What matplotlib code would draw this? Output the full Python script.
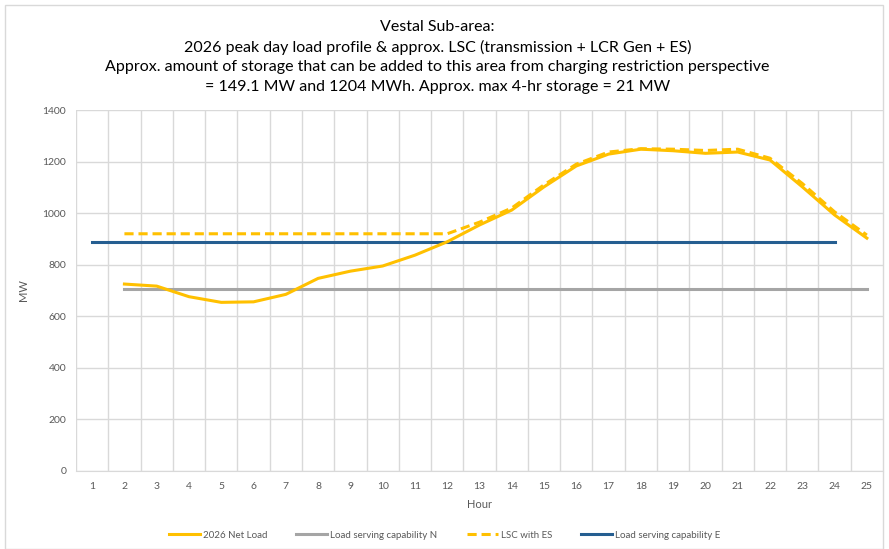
import matplotlib
matplotlib.use("Agg")
import matplotlib.pyplot as plt
from matplotlib.patches import Rectangle

plt.rcParams['font.family'] = ['Lato', 'DejaVu Sans']

hours = list(range(1, 26))
tick_labels = [str(h) for h in hours]

net_hours = list(range(2, 26))
net_load = [725, 717, 676, 654, 656, 685, 747, 775, 795, 837, 889, 954,
            1012, 1102, 1183, 1229, 1248, 1242, 1232, 1237, 1206, 1102, 993, 903]

lsc_es = [920, 920, 920, 920, 920, 920, 920, 920, 920, 920, 920, 965,
          1020, 1110, 1190, 1237, 1250, 1248, 1243, 1248, 1213, 1115, 1005, 915]

lsc_n_hours = list(range(2, 26))
lsc_n = [707] * len(lsc_n_hours)

lsc_e_hours = list(range(1, 25))
lsc_e = [890] * len(lsc_e_hours)

title_lines = ["Vestal Sub-area:",
               "2026 peak day load profile & approx. LSC (transmission + LCR Gen + ES)",
               "Approx. amount of storage that can be added to this area from charging restriction perspective",
               "= 149.1 MW and 1204 MWh. Approx. max 4-hr storage = 21 MW"]

ORANGE = '#FFC000'
GRAY = '#A5A5A5'
BLUE = '#255E91'
GRID = '#D9D9D9'
TXT = '#595959'

fig = plt.figure(figsize=(8.89, 5.49), dpi=100)
fig.patches.append(Rectangle((5/889, 0.0), 878/889, 1 - 5/549, transform=fig.transFigure,
                             fill=False, edgecolor='#D9D9D9', linewidth=1.0))
ax = fig.add_axes([76/889, (549-471)/549, (883-76)/889, (471-110)/549])

ax.plot(net_hours, net_load, color=ORANGE, lw=2.2, label='2026 Net Load', zorder=4)
ax.plot(lsc_n_hours, lsc_n, color=GRAY, lw=2.2, label='Load serving capability N', zorder=3)
ax.plot(net_hours, lsc_es, color=ORANGE, lw=2.2, ls=(0, (3, 1.6)), label='LSC with ES', zorder=5)
ax.plot(lsc_e_hours, lsc_e, color=BLUE, lw=2.2, label='Load serving capability E', zorder=3)

ax.set_xlim(0.5, 25.5)
ax.set_ylim(0, 1400)
ax.set_xticks(hours)
ax.set_xticklabels(tick_labels)
ax.set_xticks([h + 0.5 for h in range(0, 25)], minor=True)
ax.set_yticks(range(0, 1401, 200))
ax.grid(True, which='minor', axis='x', color=GRID, lw=1.0)
ax.grid(True, which='major', axis='y', color=GRID, lw=1.0)
ax.set_axisbelow(True)
for s in ['top', 'right', 'left']:
    ax.spines[s].set_visible(False)
ax.spines['bottom'].set_color(GRID)
ax.tick_params(axis='both', which='both', length=0, colors=TXT, labelsize=7.5)
ax.tick_params(axis='x', pad=8)
ax.tick_params(axis='y', pad=7)

ax.set_xlabel('Hour', color=TXT, fontsize=8, labelpad=6)
ax.set_ylabel('MW', color=TXT, fontsize=8, labelpad=10)

for i, line in enumerate(title_lines):
    fig.text(0.492, 1 - (27 + 20 * i) / 549, line, ha='center', va='center',
             fontsize=11.5, color='#000000')

leg = fig.legend(loc='center', bbox_to_anchor=(0.5, 1 - 535/549), ncol=4, frameon=False,
                 fontsize=7, handlelength=3.2, columnspacing=3.0, handletextpad=0.3)
for t in leg.get_texts():
    t.set_color(TXT)

fig.savefig('out.png', dpi=100)
